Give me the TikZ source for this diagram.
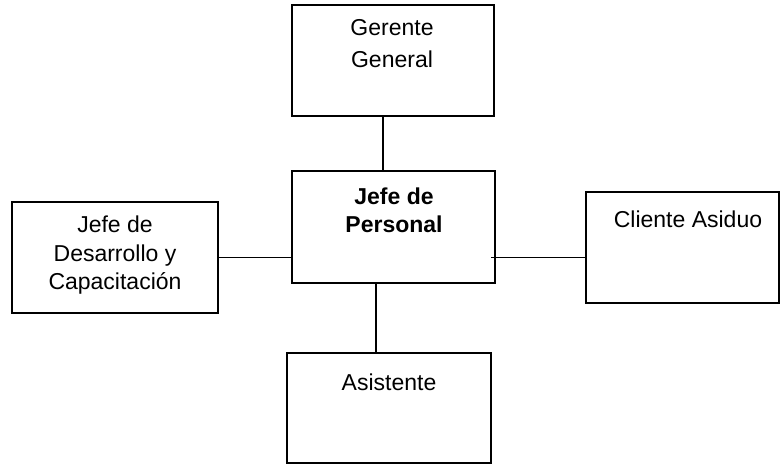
\documentclass[tikz,border=0pt]{standalone}
\usepackage{fontspec}
\setmainfont{Liberation Sans}
\begin{document}
\begin{tikzpicture}[x=1pt,y=-1pt,
  box/.style={draw=black, line width=1.7pt, fill=white, inner sep=0pt},
  lbl/.style={font=\fontsize{23}{28.5}\selectfont, align=center, inner sep=0pt, anchor=base},
  link/.style={draw=black, line width=1.7pt}]
\useasboundingbox (0,0) rectangle (780,465);

% organisation boxes
\node[box, minimum width=202pt, minimum height=111pt] (ger) at (393,60.5) {};
\node[box, minimum width=203pt, minimum height=112pt] (per) at (393.5,227) {};
\node[box, minimum width=206pt, minimum height=111pt] (des) at (115,257.5) {};
\node[box, minimum width=193pt, minimum height=111pt] (cli) at (682.5,247.5) {};
\node[box, minimum width=204pt, minimum height=110pt] (asi) at (389,408) {};

% connectors
\draw[link] ([xshift=-10pt]ger.south) -- ([xshift=-10pt]ger.south |- per.north);
\draw[link] (des.east) -- (des.east -| per.west);
\coordinate (rj) at (491,257.5);
\draw[link] (rj) -- (rj -| cli.west);
\draw[link] ([xshift=-17.5pt]per.south) -- ([xshift=-17.5pt]per.south |- asi.north);

% labels (anchored at the baseline of the last line)
\node[lbl, font=\fontsize{23}{32}\selectfont] (gerT) at (392,68) {Gerente\\General};
\node[lbl, font=\fontsize{23}{28}\bfseries\selectfont] (perT) at (394,233) {Jefe de\\Personal};
\node[lbl] (desT) at (115,290) {Jefe de\\Desarrollo y\\Capacitación};
\node[lbl] (cliT) at (688,227.5) {Cliente Asiduo};
\node[lbl] (asiT) at (389,390) {Asistente};
\end{tikzpicture}
\end{document}
